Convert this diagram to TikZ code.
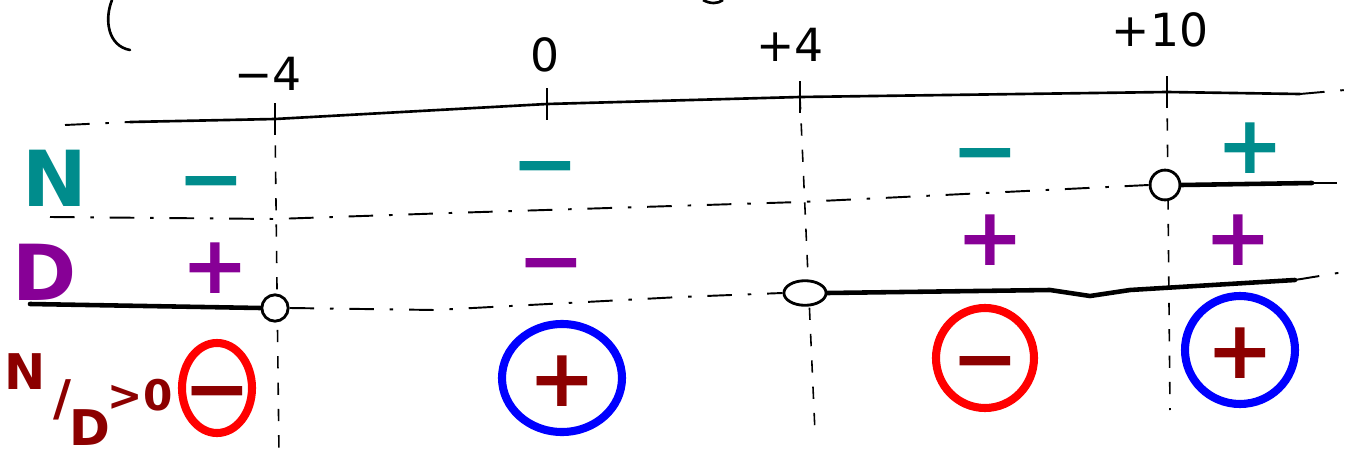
\documentclass[tikz,border=0pt]{standalone}
\usepackage{fontspec}
\setmainfont{DejaVu Sans}
\usetikzlibrary{calc, shapes.geometric}

\definecolor{ncol}{RGB}{0,140,140}
\definecolor{dcol}{RGB}{135,0,150}
\definecolor{qcol}{RGB}{140,0,0}

\begin{document}
\begin{tikzpicture}[x=0.02cm, y=-0.02cm,
    num/.style={font=\fontsize{26}{26}\selectfont},
    letter/.style={font=\fontsize{44}{44}\selectfont\bfseries},
    sgn/.style={font=\fontsize{46}{46}\selectfont\bfseries, text height=33pt, text depth=0pt},
    qtext/.style={qcol, inner sep=0pt, font=\fontsize{28}{28}\selectfont\bfseries},
    axisline/.style={line width=1.5pt, line cap=round},
    thickline/.style={line width=2.6pt, line cap=round},
    hdash/.style={line width=1.1pt, dash pattern=on 14pt off 9pt on 2pt off 9pt},
    vdash/.style={line width=0.9pt, dash pattern=on 7pt off 8pt},
    hole/.style={draw, fill=white, line width=1.6pt},
    ring/.style={draw=#1, line width=4.6pt}]

    \useasboundingbox (0,0) rectangle (1360,463);

    \coordinate (axL) at (65,125);
    \coordinate (axS) at (130,122);
    \coordinate (tm4) at (275,119);
    \coordinate (t0) at (547,104);
    \coordinate (t4) at (800,97);
    \coordinate (t10) at (1167,92);
    \coordinate (axE) at (1300,94);
    \coordinate (axR) at (1345,90);

    \coordinate (bm4) at (279,455);
    \coordinate (b4) at (815,432);
    \coordinate (b10) at (1170,410);

    \draw[line width=1.5pt, line cap=round] (112,0) .. controls (104,20) and (108,46) .. (130,50);
    \draw[line width=1.5pt] (703,0) .. controls (710,4) and (718,4) .. (723,0);

    \draw[hdash] (axL) -- (axS);
    \draw[axisline] (axS) -- (tm4) -- (t0) -- (t4) -- (t10) -- (axE);
    \draw[hdash] (axE) -- (axR);
    \foreach \t in {tm4,t0,t4,t10}
        \draw[line width=1.2pt] ($(\t)+(0,-16)$) -- ($(\t)+(0,16)$);

    \node[num] (lm4) at (268,74) {−4};
    \node[num] (l0) at (545,55) {0};
    \node[num] (l4) at (790,45) {+4};
    \node[num] (l10) at (1160,30) {+10};

    \draw[vdash] (tm4) -- (bm4);
    \draw[vdash] (t4) -- (b4);
    \draw[vdash] (t10) -- (b10);

    % numerator row
    \node[letter, ncol] (N) at (55,178) {N};
    \coordinate (nA) at (50,217);
    \coordinate (nB) at (275,219);
    \coordinate (nC) at (450,213);
    \coordinate (nD) at (800,202);
    \node[hole, circle, minimum size=17pt, inner sep=0pt] (h10) at (1165,185) {};
    \coordinate (nE) at (1312,183);
    \coordinate (nF) at (1352,183);
    \draw[hdash] (nA) -- (nB) -- (nC) -- (nD) -- (h10.west);
    \draw[thickline] (h10.east) -- (nE);
    \draw[hdash] (nE) -- (nF);

    % denominator row
    \node[letter, dcol] (D) at (45,272) {D};
    \coordinate (dA) at (30,304);
    \node[hole, circle, minimum size=15pt, inner sep=0pt] (hm4) at (275,308) {};
    \node[hole, ellipse, minimum width=24pt, minimum height=14pt, inner sep=0pt] (h4) at (805,293) {};
    \coordinate (dB) at (435,310);
    \coordinate (dC) at (680,297);
    \coordinate (dD) at (1050,290);
    \coordinate (dE) at (1090,296);
    \coordinate (dF) at (1295,280);
    \coordinate (dG) at (1350,271);
    \draw[thickline] (dA) -- (hm4.west);
    \draw[hdash] (hm4.east) -- (dB) -- (dC) -- (h4.west);
    \draw[thickline] (h4.east) -- (dD) -- (dE) -- (1130,290) -- (dF);
    \draw[hdash] (dF) -- (dG);

    \node[sgn, ncol] (n1) at (211,178) {−};
    \node[sgn, ncol] (n2) at (545,163) {−};
    \node[sgn, ncol] (n3) at (985,150) {−};
    \node[sgn, ncol] (n4) at (1250,145) {+};

    \node[sgn, dcol] (d1) at (215,265) {+};
    \node[sgn, dcol] (d2) at (551,260) {−};
    \node[sgn, dcol] (d3) at (990,237) {+};
    \node[sgn, dcol] (d4) at (1238,237) {+};

    % quotient row
    \node[qtext] (QN) at (25,372) {N};
    \node[qtext] (Qs) at (62,400) {/};
    \node[qtext] (QD) at (90,428) {D};
    \node[qtext, font=\fontsize{24}{24}\selectfont\bfseries] (Qg) at (140,395) {>0};
    \node[sgn, qcol] (r1) at (217,388) {−};
    \node[sgn, qcol] (r2) at (562,378) {+};
    \node[sgn, qcol] (r3) at (985,358) {−};
    \node[sgn, qcol] (r4) at (1240,350) {+};
    \draw[ring=red] (r1) ellipse [x radius=35, y radius=45];
    \draw[ring=blue] (r2) ellipse [x radius=60, y radius=54];
    \draw[ring=red] (r3) ellipse [x radius=49, y radius=50];
    \draw[ring=blue] (r4) ellipse [x radius=55, y radius=54];
\end{tikzpicture}
\end{document}
